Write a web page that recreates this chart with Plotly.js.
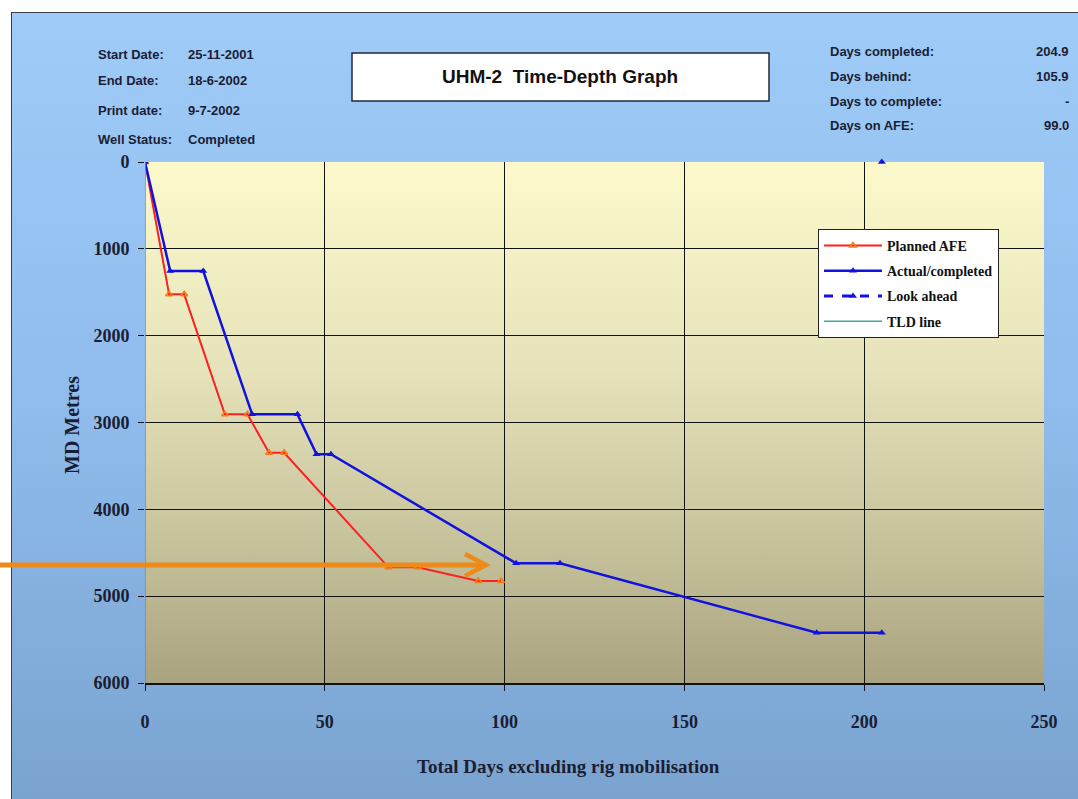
<!DOCTYPE html>
<html>
<head>
<meta charset="utf-8">
<script src="https://cdn.plot.ly/plotly-3.0.1.min.js"></script>
<style>
  html, body { margin: 0; padding: 0; background: #ffffff; width: 1078px; height: 799px; overflow: hidden; }
  #frame { position: absolute; left: 11px; top: 12px; width: 1067px; height: 787px; box-sizing: border-box;
           border: 1px solid #3a3f48; border-right: none; border-bottom: none;
           background: linear-gradient(to bottom, #9fcbf8 0%, #8fbcec 50%, #7aa3cf 100%); }
  #plotbg { position: absolute; left: 145px; top: 162px; width: 899px; height: 521px;
            background: linear-gradient(to bottom, #fcfacb 0%, #e6e3bb 40%, #c9c69f 70%, #a9a37f 100%); }
  #chart { position: absolute; left: 0; top: 0; width: 1078px; height: 799px; }
</style>
</head>
<body>
<div id="frame"></div>
<div id="plotbg"></div>
<div id="chart"></div>
<script>
// ---- data ----
const plannedDays  = [0, 6.7, 10.9, 22.2, 28.5, 34.5, 38.7, 67.7, 75.8, 92.7, 99.0];
const plannedDepth = [0, 1524, 1524, 2906, 2906, 3348, 3348, 4668, 4668, 4826, 4826];

const actualDays  = [0, 7.0, 16.2, 29.8, 42.4, 47.7, 51.7, 103.2, 115.4, 186.8, 204.9];
const actualDepth = [0, 1255, 1255, 2906, 2906, 3366, 3366, 4622, 4622, 5421, 5421];

const lookAheadDays  = [204.9];
const lookAheadDepth = [0];

const tldDays  = [0, 0];
const tldDepth = [0, 6000];

const seriesNames = ["Planned AFE", "Actual/completed", "Look ahead", "TLD line"];

const infoLeftLabels  = ["Start Date:", "End Date:", "Print date:", "Well Status:"];
const infoLeftValues  = ["25-11-2001", "18-6-2002", "9-7-2002", "Completed"];
const infoRightLabels = ["Days completed:", "Days behind:", "Days to complete:", "Days on AFE:"];
const infoRightValues = ["204.9", "105.9", "-", "99.0"];

const chartTitle = "UHM-2  Time-Depth Graph";
const xTitle = "Total Days excluding rig mobilisation";
const yTitle = "MD Metres";

// ---- geometry helpers (pixel -> paper) ----
const L = 145, R = 1044, T = 162, B = 683;
const px = v => (v - L) / (R - L);
const py = v => (B - v) / (B - T);

const serif = "Liberation Serif, Times New Roman, serif";
const sans = "Liberation Sans, Arial, sans-serif";
const textCol = "#1b1d33";

const traces = [
  { x: plannedDays, y: plannedDepth, name: seriesNames[0], type: "scatter", mode: "lines+markers",
    legendgroup: "a",
    line: { color: "#ff1f1f", width: 2 },
    marker: { symbol: "triangle-up-open", size: 6, color: "#f07f1a", line: { width: 1.5 } } },
  { x: actualDays, y: actualDepth, name: seriesNames[1], type: "scatter", mode: "lines+markers",
    legendgroup: "b",
    line: { color: "#1212df", width: 2.5 },
    marker: { symbol: "triangle-up", size: 7, color: "#1212df" } },
  { x: lookAheadDays, y: lookAheadDepth, name: seriesNames[2], type: "scatter", mode: "lines+markers",
    legendgroup: "c", cliponaxis: false,
    line: { color: "#1212df", width: 3, dash: "dash" },
    marker: { symbol: "triangle-up", size: 7, color: "#1212df" } },
  { x: tldDays, y: tldDepth, name: seriesNames[3], type: "scatter", mode: "lines",
    legendgroup: "d", cliponaxis: false,
    line: { color: "#3aa89a", width: 1.5 } }
];

const annotations = [];
const leftRowsY = [54, 80, 111, 139];
const rightRowsY = [52, 76, 101, 125];
infoLeftLabels.forEach((t, i) => {
  annotations.push({ xref: "paper", yref: "paper", x: px(96), y: py(leftRowsY[i]), xanchor: "left", yanchor: "middle",
    text: t, showarrow: false, font: { family: sans, size: 13, color: textCol, weight: "bold" } });
  annotations.push({ xref: "paper", yref: "paper", x: px(186), y: py(leftRowsY[i]), xanchor: "left", yanchor: "middle",
    text: infoLeftValues[i], showarrow: false, font: { family: sans, size: 13, color: textCol, weight: "bold" } });
});
infoRightLabels.forEach((t, i) => {
  annotations.push({ xref: "paper", yref: "paper", x: px(828), y: py(rightRowsY[i]), xanchor: "left", yanchor: "middle",
    text: t, showarrow: false, font: { family: sans, size: 13, color: textCol, weight: "bold" } });
  annotations.push({ xref: "paper", yref: "paper", x: px(1071), y: py(rightRowsY[i]), xanchor: "right", yanchor: "middle",
    text: infoRightValues[i], showarrow: false, font: { family: sans, size: 13, color: textCol, weight: "bold" } });
});
// title in box
annotations.push({ xref: "paper", yref: "paper", x: px(560), y: py(77), xanchor: "center", yanchor: "middle",
  text: chartTitle, showarrow: false, font: { family: sans, size: 19, color: "#111111", weight: "bold" } });
// axis titles
annotations.push({ xref: "paper", yref: "paper", x: px(568), y: py(766), xanchor: "center", yanchor: "middle",
  text: xTitle, showarrow: false, font: { family: serif, size: 19, color: textCol, weight: "bold" } });
annotations.push({ xref: "paper", yref: "paper", x: px(72), y: py(425), xanchor: "center", yanchor: "middle",
  text: yTitle, textangle: -90, showarrow: false, font: { family: serif, size: 20, color: textCol, weight: "bold" } });

const shapes = [
  // title box
  { type: "rect", xref: "paper", yref: "paper", x0: px(352), x1: px(769), y0: py(101), y1: py(53),
    fillcolor: "#ffffff", line: { color: "#222a38", width: 1.5 }, layer: "above" },
  // orange arrow overlay
  { type: "line", xref: "paper", yref: "paper", x0: px(-2), x1: px(483), y0: py(565), y1: py(565),
    line: { color: "#ee8a1a", width: 5 }, layer: "above" },
  { type: "path", xref: "paper", yref: "paper",
    path: `M ${px(465)},${py(554)} L ${px(486)},${py(565)} L ${px(465)},${py(576)}`,
    line: { color: "#ee8a1a", width: 4.5 }, layer: "above" }
];

const layout = {
  width: 1078, height: 799,
  margin: { l: L, r: 1078 - R, t: T, b: 799 - B, pad: 0 },
  paper_bgcolor: "rgba(0,0,0,0)",
  plot_bgcolor: "rgba(0,0,0,0)",
  showlegend: true,
  legend: {
    x: px(818), y: py(229), xanchor: "left", yanchor: "top",
    bgcolor: "#ffffff", bordercolor: "#222222", borderwidth: 1,
    font: { family: serif, size: 14, color: "#111111", weight: "bold" },
    tracegroupgap: 4, itemwidth: 58, traceorder: "grouped"
  },
  xaxis: {
    range: [0, 250], dtick: 50, tick0: 0,
    showgrid: true, gridcolor: "#111111", gridwidth: 1,
    zeroline: false, showline: true, linecolor: "#111111", linewidth: 1.5,
    ticks: "outside", ticklen: 6, tickcolor: "#111111", tickwidth: 1,
    ticklabelstandoff: 16,
    tickfont: { family: serif, size: 18, color: textCol, weight: "bold" },
    fixedrange: true
  },
  yaxis: {
    range: [6000, 0], dtick: 1000, tick0: 0,
    showgrid: true, gridcolor: "#111111", gridwidth: 1,
    zeroline: false, showline: false,
    ticks: "outside", ticklen: 6, tickcolor: "#111111", tickwidth: 1,
    ticklabelstandoff: 5,
    tickfont: { family: serif, size: 18, color: textCol, weight: "bold" },
    fixedrange: true
  },
  annotations: annotations,
  shapes: shapes
};

Plotly.newPlot("chart", traces, layout, { displayModeBar: false, staticPlot: true });
</script>
</body>
</html>
